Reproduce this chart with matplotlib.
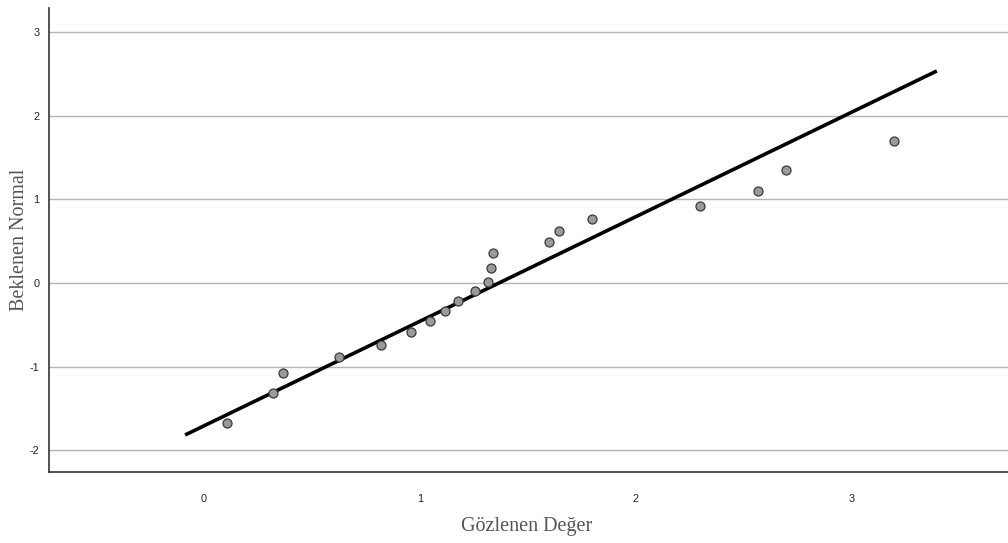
import matplotlib
matplotlib.use("Agg")
import matplotlib.pyplot as plt

# Data (Normal Q-Q plot)
observed = [0.108, 0.318, 0.367, 0.627, 0.819, 0.958, 1.048, 1.119, 1.177, 1.257,
            1.318, 1.329, 1.338, 1.598, 1.647, 1.800, 2.300, 2.570, 2.700, 3.199]
expected = [-1.671, -1.316, -1.080, -0.889, -0.738, -0.591, -0.458, -0.338, -0.211, -0.096,
            0.012, 0.179, 0.359, 0.487, 0.618, 0.762, 0.917, 1.105, 1.349, 1.699]
line_x = [-0.088, 3.397]
line_y = [-1.818, 2.536]
x_ticks = [0, 1, 2, 3]
y_ticks = [-2, -1, 0, 1, 2, 3]
x_label = "Gözlenen Değer"
y_label = "Beklenen Normal"

fig = plt.figure(figsize=(10.08, 5.43), dpi=100)
ax = fig.add_axes([49/1008, 1 - 472/543, 1 - 49/1008, (472 - 8)/543])

ax.set_xlim(-0.719, 3.727)
ax.set_ylim(-2.261, 3.289)

ax.grid(axis="y", color="#b4b4b4", linewidth=1.0, zorder=0)
ax.set_axisbelow(True)

ax.plot(line_x, line_y, color="black", linewidth=2.6, solid_capstyle="butt", zorder=2)
ax.scatter(observed, expected, s=42, facecolor="#9a9a9a", edgecolor="#3a3a3a",
           linewidth=0.9, zorder=3)

ax.set_xticks(x_ticks)
ax.set_yticks(y_ticks)
ax.set_xticklabels([str(t) for t in x_ticks], fontfamily="Liberation Sans", fontsize=7.8, color="#222222")
ax.set_yticklabels([str(t) for t in y_ticks], fontfamily="Liberation Sans", fontsize=7.8, color="#222222")
ax.tick_params(axis="both", length=0)
ax.tick_params(axis="x", pad=16)
ax.tick_params(axis="y", pad=7)

for s in ["top", "right"]:
    ax.spines[s].set_visible(False)
for s in ["left", "bottom"]:
    ax.spines[s].set_color("#333333")
    ax.spines[s].set_linewidth(1.2)

ax.set_xlabel(x_label, fontfamily="Liberation Serif", fontsize=14.5, color="#555555")
ax.set_ylabel(y_label, fontfamily="Liberation Serif", fontsize=14.5, color="#555555")
ax.xaxis.set_label_coords(0.5 + (527 - (49 + 959 / 2)) / 959, -45 / 464)
ax.yaxis.set_label_coords(-20 / 959, 0.5)

fig.savefig("out.png", dpi=100)
